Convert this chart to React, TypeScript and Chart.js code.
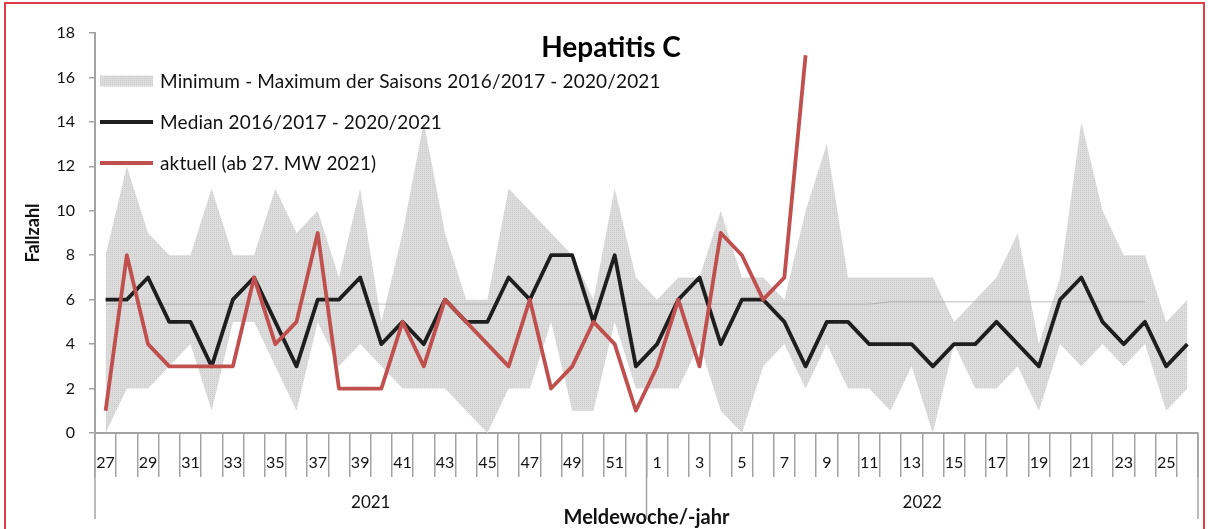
import React, { useEffect, useRef } from 'react';
import { Chart, registerables } from 'chart.js';

Chart.register(...registerables);

// ---- data ----
const weeks = [
  27, 28, 29, 30, 31, 32, 33, 34, 35, 36, 37, 38, 39, 40, 41, 42, 43, 44, 45, 46, 47, 48, 49, 50, 51, 52,
  1, 2, 3, 4, 5, 6, 7, 8, 9, 10, 11, 12, 13, 14, 15, 16, 17, 18, 19, 20, 21, 22, 23, 24, 25, 26,
];
const yearLabels = ['2021', '2022'];
const weeksPerYear = [26, 26];

const maxValues = [
  8, 12, 9, 8, 8, 11, 8, 8, 11, 9, 10, 7, 11, 5, 9, 14, 9, 6, 6, 11, 10, 9, 8, 6, 11, 7,
  6, 7, 7, 10, 7, 7, 6, 10, 13, 7, 7, 7, 7, 7, 5, 6, 7, 9, 4, 7, 14, 10, 8, 8, 5, 6,
];
const minValues = [
  0, 2, 2, 3, 4, 1, 5, 5, 3, 1, 5, 3, 4, 3, 2, 2, 2, 1, 0, 2, 2, 5, 1, 1, 5, 2,
  2, 2, 4, 1, 0, 3, 4, 2, 4, 2, 2, 1, 3, 0, 4, 2, 2, 3, 1, 4, 3, 4, 3, 4, 1, 2,
];
const medianValues = [
  6, 6, 7, 5, 5, 3, 6, 7, 5, 3, 6, 6, 7, 4, 5, 4, 6, 5, 5, 7, 6, 8, 8, 5, 8, 3,
  4, 6, 7, 4, 6, 6, 5, 3, 5, 5, 4, 4, 4, 3, 4, 4, 5, 4, 3, 6, 7, 5, 4, 5, 3, 4,
];
const currentValues: (number | null)[] = [
  1, 8, 4, 3, 3, 3, 3, 7, 4, 5, 9, 2, 2, 2, 5, 3, 6, 5, 4, 3, 6, 2, 3, 5, 4, 1,
  3, 6, 3, 9, 8, 6, 7, 17, null, null, null, null, null, null, null, null, null, null, null, null, null, null, null, null, null, null,
];
const referenceLine: (number | null)[] = [
  5.8, 5.8, 5.8, 5.8, 5.8, 5.8, 5.8, 5.8, 5.8, 5.8, 5.8, 5.8, 5.8, 5.8, 5.8, 5.8, 5.8, 5.8, 5.8, 5.8, 5.8, 5.8, 5.8, 5.8, 5.8, 5.8,
  5.8, 5.8, 5.8, 5.8, 5.8, 5.8, 5.8, 5.8, 5.8, 5.8, 5.8, 5.9, 5.9, 5.9, 5.9, 5.9, 5.9, 5.9, 5.9, 5.9, 5.9, 5.9, 5.9, 5.9, null, null,
];

const chartTitle = 'Hepatitis C';
const legendLabels = [
  'Minimum - Maximum der Saisons 2016/2017 - 2020/2021',
  'Median 2016/2017 - 2020/2021',
  'aktuell (ab 27. MW 2021)',
];
const xAxisTitle = 'Meldewoche/-jahr';
const yAxisTitle = 'Fallzahl';

const RED = '#c0504d';
const BLACK = '#1e1e1e';
const AXIS = '#a3a3a3';
const FONT = 'Lato, "Open Sans", sans-serif';

function makePattern(): CanvasPattern | string {
  const c = document.createElement('canvas');
  c.width = 2;
  c.height = 2;
  const g = c.getContext('2d');
  if (!g) return '#d8d8d8';
  g.fillStyle = '#dcdcdc';
  g.fillRect(0, 0, 2, 2);
  g.fillStyle = '#cecece';
  g.fillRect(0, 0, 1, 1);
  return g.createPattern(c, 'repeat') || '#d8d8d8';
}

export default function App() {
  const canvasRef = useRef<HTMLCanvasElement | null>(null);

  useEffect(() => {
    const canvas = canvasRef.current;
    if (!canvas) return;
    const pattern = makePattern();

    const overlayPlugin = {
      id: 'overlay',
      afterDatasetsDraw(chart: any) {
        const { ctx, chartArea } = chart;
        ctx.save();
        // title
        ctx.font = `bold 28px ${FONT}`;
        ctx.fillStyle = '#000';
        ctx.textAlign = 'center';
        ctx.textBaseline = 'alphabetic';
        ctx.fillText(chartTitle, chartArea.left + 516, chartArea.top + 24);
        // legend
        const lx = chartArea.left + 5;
        const ly0 = chartArea.top + 48;
        const gap = 41;
        legendLabels.forEach((text, k) => {
          const cy = ly0 + k * gap;
          if (k === 0) {
            ctx.fillStyle = pattern;
            ctx.fillRect(lx, cy - 5.5, 53, 11);
          } else {
            ctx.beginPath();
            ctx.strokeStyle = k === 1 ? BLACK : RED;
            ctx.lineWidth = 3.8;
            ctx.lineCap = 'butt';
            ctx.moveTo(lx, cy);
            ctx.lineTo(lx + 53, cy);
            ctx.stroke();
          }
          ctx.fillStyle = '#111';
          ctx.font = `19px ${FONT}`;
          ctx.textAlign = 'left';
          ctx.textBaseline = 'middle';
          try {
            (ctx as any).letterSpacing = '0.15px';
          } catch (e) {}
          ctx.fillText(text, lx + 60, cy + 1);
          try {
            (ctx as any).letterSpacing = '0px';
          } catch (e) {}
        });
        ctx.restore();
      },
      afterDraw(chart: any) {
        const { ctx } = chart;
        const x = chart.scales.x;
        ctx.save();
        const bounds: number[] = [x.left];
        let idx = 0;
        weeksPerYear.forEach((n) => {
          idx += n;
          if (idx < weeks.length) {
            bounds.push((x.getPixelForValue(idx - 1) + x.getPixelForValue(idx)) / 2);
          } else {
            bounds.push(x.right);
          }
        });
        ctx.strokeStyle = AXIS;
        ctx.lineWidth = 1.5;
        bounds.forEach((bx) => {
          ctx.beginPath();
          ctx.moveTo(bx, x.top);
          ctx.lineTo(bx, x.top + 86);
          ctx.stroke();
        });
        ctx.fillStyle = '#111';
        ctx.font = `17px ${FONT}`;
        ctx.textAlign = 'center';
        ctx.textBaseline = 'middle';
        yearLabels.forEach((yl, k) => {
          ctx.fillText(yl, (bounds[k] + bounds[k + 1]) / 2, x.top + 70);
        });
        ctx.restore();
      },
    };

    const chart = new Chart(canvas, {
      type: 'line',
      data: {
        labels: weeks.map((w) => String(w)),
        datasets: [
          {
            label: legendLabels[2],
            data: currentValues,
            borderColor: RED,
            borderWidth: 3.8,
            pointRadius: 0,
            fill: false,
            tension: 0,
            borderJoinStyle: 'round',
            order: 0,
          },
          {
            label: legendLabels[1],
            data: medianValues,
            borderColor: BLACK,
            borderWidth: 3.8,
            pointRadius: 0,
            fill: false,
            tension: 0,
            borderJoinStyle: 'round',
            order: 1,
          },
          {
            label: 'ref',
            data: referenceLine,
            borderColor: 'rgba(140,140,140,0.55)',
            borderWidth: 1,
            pointRadius: 0,
            fill: false,
            order: 2,
          },
          {
            label: 'Minimum',
            data: minValues,
            borderColor: 'transparent',
            borderWidth: 0,
            pointRadius: 0,
            fill: false,
            order: 3,
          },
          {
            label: legendLabels[0],
            data: maxValues,
            borderColor: 'transparent',
            borderWidth: 0,
            pointRadius: 0,
            fill: '-1',
            backgroundColor: pattern as any,
            order: 4,
          },
        ],
      },
      options: {
        animation: false,
        responsive: false,
        devicePixelRatio: 1,
        layout: { padding: { left: 0, right: 10, top: 33, bottom: 0 } },
        plugins: {
          legend: { display: false },
          tooltip: { enabled: false },
          title: { display: false },
        },
        scales: {
          x: {
            type: 'category',
            offset: true,
            grid: {
              offset: true,
              drawOnChartArea: false,
              drawTicks: true,
              tickLength: 44,
              color: AXIS,
              lineWidth: 1.5,
            },
            border: { display: true, color: AXIS, width: 2 },
            ticks: {
              autoSkip: false,
              maxRotation: 0,
              minRotation: 0,
              padding: -24,
              color: '#111',
              font: { family: FONT, size: 16 },
              callback: (_v: any, i: number) => (i % 2 === 0 ? String(weeks[i]) : ''),
            },
            title: {
              display: true,
              text: xAxisTitle,
              color: '#111',
              font: { family: FONT, size: 20, weight: 'bold' },
              padding: { top: 0, bottom: -1 },
            },
            afterFit: (s: any) => {
              s.height = 96;
            },
          },
          y: {
            min: 0,
            max: 18,
            ticks: {
              stepSize: 2,
              padding: 14,
              color: '#111',
              font: { family: FONT, size: 16 },
            },
            grid: {
              drawOnChartArea: false,
              drawTicks: true,
              tickLength: 6,
              color: AXIS,
              lineWidth: 1.5,
            },
            border: { display: true, color: AXIS, width: 2 },
            title: {
              display: true,
              text: yAxisTitle,
              color: '#111',
              font: { family: FONT, size: 18, weight: 'bold' },
              padding: { top: 22, bottom: 0 },
            },
            afterFit: (s: any) => {
              s.width = 95;
            },
          },
        },
      },
      plugins: [overlayPlugin],
    } as any);

    return () => {
      chart.destroy();
    };
  }, []);

  return (
    <div
      style={{
        position: 'fixed',
        left: 0,
        top: 0,
        width: 1208,
        height: 529,
        overflow: 'hidden',
        background: '#fff',
      }}
    >
      <canvas ref={canvasRef} width={1208} height={529} style={{ display: 'block', position: 'absolute', left: 0, top: 0 }} />
      <div
        style={{
          position: 'absolute',
          left: 4,
          top: 2,
          width: 1197,
          height: 600,
          border: '2px solid #e23b47',
          pointerEvents: 'none',
        }}
      />
    </div>
  );
}
